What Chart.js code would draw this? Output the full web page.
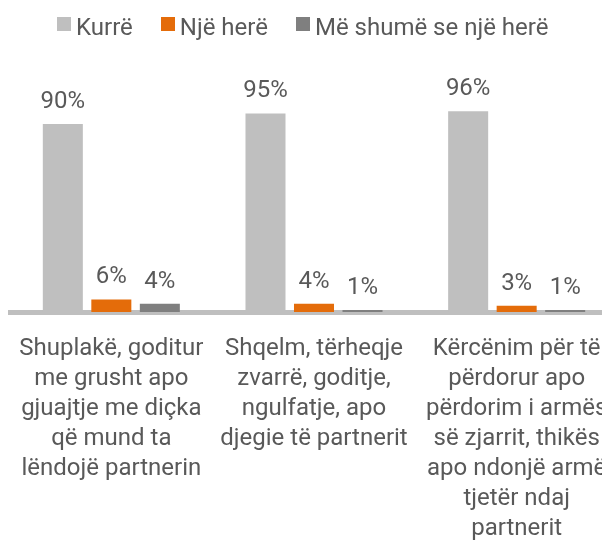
<!DOCTYPE html>
<html>
<head>
<meta charset="utf-8">
<script src="https://cdn.jsdelivr.net/npm/chart.js@4.4.1/dist/chart.umd.min.js"></script>
<style>
  html, body { margin: 0; padding: 0; background: #ffffff; overflow: hidden; width: 602px; height: 541px; }
  #wrap { position: relative; width: 602px; height: 541px; overflow: hidden; }
  #c { position: absolute; left: 0; top: 0; }
  #legend { position: absolute; left: 57px; top: 15px; display: flex; font-family: Roboto, sans-serif; font-size: 24px; line-height: 24px; color: #595959; white-space: nowrap; }
  .item { display: flex; align-items: flex-start; margin-right: 28px; }
  .box { width: 14px; height: 14px; margin-top: 2px; margin-right: 5px; }
</style>
</head>
<body>
<div id="wrap">
  <canvas id="c" width="620" height="541"></canvas>
  <div id="legend"></div>
</div>
<script>
const categories = [
  ["Shuplakë, goditur", "me grusht apo", "gjuajtje me diçka", "që mund ta", "lëndojë partnerin"],
  ["Shqelm, tërheqje", "zvarrë, goditje,", "ngulfatje, apo", "djegie të partnerit"],
  ["Kërcënim për të", "përdorur apo", "përdorim i armës", "së zjarrit, thikës", "apo ndonjë armë", "tjetër ndaj", "partnerit"]
];
const seriesNames = ["Kurrë", "Një herë", "Më shumë se një herë"];
const kurre = [90, 95, 96];
const njeHere = [6, 4, 3];
const meShume = [4, 1, 1];
const colors = ["#bfbfbf", "#e46c0a", "#7f7f7f"];

const textColor = "#595959";
const fontFamily = "Roboto, sans-serif";

// HTML legend built from the series names / colours
const legendEl = document.getElementById('legend');
seriesNames.forEach((name, i) => {
  const item = document.createElement('div');
  item.className = 'item';
  const box = document.createElement('span');
  box.className = 'box';
  box.style.background = colors[i];
  const txt = document.createElement('span');
  txt.textContent = name;
  item.appendChild(box);
  item.appendChild(txt);
  legendEl.appendChild(item);
});

const valueLabels = {
  id: 'valueLabels',
  afterDatasetsDraw(chart) {
    const ctx = chart.ctx;
    ctx.save();
    ctx.font = '24px ' + fontFamily;
    ctx.fillStyle = textColor;
    ctx.textAlign = 'center';
    ctx.textBaseline = 'alphabetic';
    chart.data.datasets.forEach((ds, di) => {
      const meta = chart.getDatasetMeta(di);
      meta.data.forEach((bar, i) => {
        ctx.fillText(ds.data[i] + '%', bar.x, bar.y - 16);
      });
    });
    ctx.restore();
  }
};

new Chart(document.getElementById('c'), {
  type: 'bar',
  data: {
    labels: categories,
    datasets: [
      { label: seriesNames[0], data: kurre, backgroundColor: colors[0] },
      { label: seriesNames[1], data: njeHere, backgroundColor: colors[1] },
      { label: seriesNames[2], data: meShume, backgroundColor: colors[2] }
    ]
  },
  options: {
    responsive: false,
    devicePixelRatio: 1,
    animation: false,
    barPercentage: 0.825,
    categoryPercentage: 0.718,
    layout: { padding: { left: 10, right: 2, top: 103, bottom: 0 } },
    plugins: {
      legend: { display: false },
      tooltip: { enabled: false }
    },
    scales: {
      x: {
        z: 1,
        grid: { display: false, drawTicks: false },
        border: { display: true, color: "#bfbfbf", width: 5 },
        ticks: {
          color: textColor,
          font: { family: fontFamily, size: 24, lineHeight: 1.25 },
          padding: 22,
          maxRotation: 0,
          minRotation: 0,
          autoSkip: false
        },
        afterFit(scale) {
          scale.height = 229;
          scale.paddingLeft = 0;
          scale.paddingRight = 0;
        }
      },
      y: {
        display: false,
        min: 0,
        max: 100
      }
    }
  },
  plugins: [valueLabels]
});
</script>
</body>
</html>
